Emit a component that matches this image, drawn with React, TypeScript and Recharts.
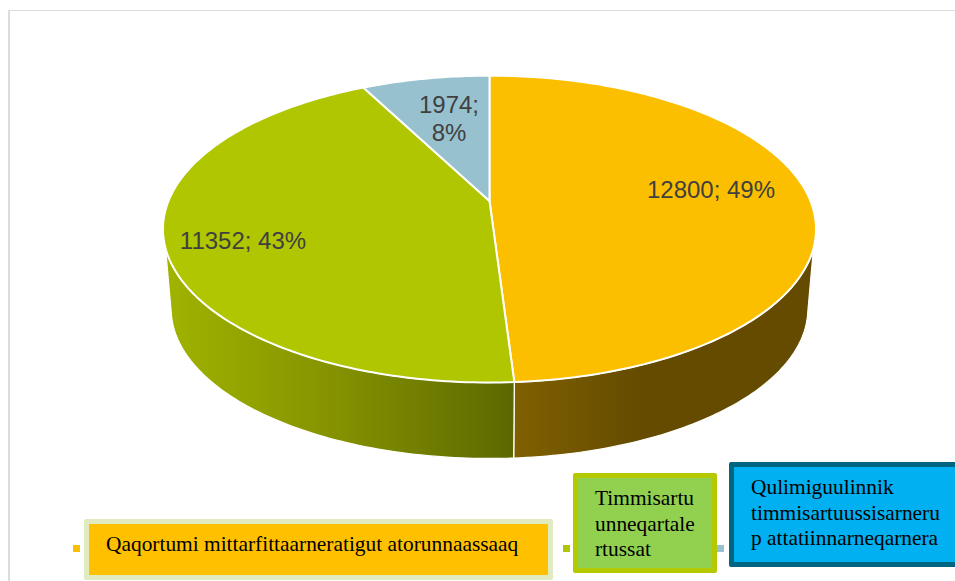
import React from 'react';
import { PieChart, Pie, Legend } from 'recharts';

const categories = [
  'Qaqortumi mittarfittaarneratigut atorunnaassaaq',
  'Timmisartu unneqartalertussat',
  'Qulimiguulinnik timmisartuussisarnerup attatiinnarneqarnera',
];
const values = [12800, 11352, 1974];
const sliceColors = ['#fbbf00', '#afc600', '#98c1d0'];

// the legend boxes wrap in the middle of words, so the lines are kept as read
const legendLines = [
  ['Qaqortumi mittarfittaarneratigut atorunnaassaaq'],
  ['Timmisartu', 'unneqartale', 'rtussat'],
  ['Qulimiguulinnik', 'timmisartuussisarneru', 'p attatiinnarneqarnera'],
];

const chartData = categories.map((name, i) => ({ name, value: values[i], fill: sliceColors[i] }));

// perspective of the tilted disc
const W = 955;
const H = 581;
const APEX_X = 489.5;
const APEX_Y = 201;
const RX = 321;
const RY = 148.3;
const TILT = 0.183;
const DEPTH_SCALE = 0.975;
const DEPTH_DROP = 80.5;
// where the side wall starts on the upper and on the lower rim
const UPPER_FROM = 107.5;
const LOWER_FROM = 102;

const rad = (d: number) => (d * Math.PI) / 180;

const project = (theta: number, cx: number, cy: number, lower = false) => {
  const X = Math.sin(rad(theta));
  const Y = Math.cos(rad(theta));
  const d = 1 + TILT * Y;
  const s = lower ? DEPTH_SCALE : 1;
  return {
    x: cx + (s * RX * X) / d,
    y: cy + (lower ? DEPTH_DROP : 0) - (s * RY * Y) / d,
  };
};

const sweep = (from: number, to: number, cx: number, cy: number, lower = false) => {
  const pts: string[] = [];
  const n = Math.max(2, Math.ceil(Math.abs(to - from)));
  for (let i = 0; i <= n; i++) {
    const p = project(from + ((to - from) * i) / n, cx, cy, lower);
    pts.push(`${p.x.toFixed(2)} ${p.y.toFixed(2)}`);
  }
  return pts;
};

const SliceShape = (props: any) => {
  const { cx, cy, startAngle, endAngle, fill, index } = props;
  // recharts angles run counter-clockwise from 3 o'clock, the projection clockwise from 12
  const from = 90 - startAngle;
  const to = 90 - endAngle;
  const top = `M${cx} ${cy}L${sweep(from, to, cx, cy).join('L')}Z`;
  const upperFrom = Math.max(from, UPPER_FROM);
  const upperTo = Math.min(to, 360 - UPPER_FROM);
  const lowerFrom = Math.max(from, LOWER_FROM);
  const lowerTo = Math.min(to, 360 - LOWER_FROM);
  const side =
    upperTo > upperFrom
      ? `M${sweep(upperFrom, upperTo, cx, cy).join('L')}L${sweep(lowerTo, lowerFrom, cx, cy, true).join('L')}Z`
      : null;
  return (
    <g>
      {side && <path d={side} fill={`url(#side${index})`} stroke="#ffffff" strokeWidth={1.25} />}
      <path d={top} fill={fill} stroke="#ffffff" strokeWidth={2} strokeLinejoin="round" />
    </g>
  );
};

const labelSpots = [
  { x: 711, y: 190 },
  { x: 243, y: 241 },
  { x: 449, y: 118 },
];

const SliceLabel = (props: any) => {
  const { index, value, percent } = props;
  const spot = labelSpots[index];
  const pct = `${Math.round(percent * 100)}%`;
  const common = { textAnchor: 'middle' as const, fontSize: 24, fill: '#404040', fontFamily: '"Liberation Sans", Arial, sans-serif' };
  if (index === 2) {
    return (
      <text x={spot.x} y={spot.y} {...common}>
        <tspan x={spot.x} y={spot.y - 5}>{`${value};`}</tspan>
        <tspan x={spot.x} y={spot.y + 23}>{pct}</tspan>
      </text>
    );
  }
  return (
    <text x={spot.x} y={spot.y + 8} {...common}>{`${value}; ${pct}`}</text>
  );
};

const legendBoxes = [
  { left: 84, top: 519, width: 469, height: 61, border: '#e2eac0', fill: '#ffc000', marker: 73 },
  { left: 573, top: 473, width: 144, height: 100, border: '#b5c900', fill: '#92d050', marker: 563 },
  { left: 729, top: 462, width: 240, height: 105, border: '#006580', fill: '#00b0f0', marker: 717 },
];

const BoxLegend = (props: any) => {
  const payload = props.payload || [];
  return (
    <div style={{ position: 'relative', width: W, height: H, overflow: 'hidden' }}>
      {payload.map((entry: any, i: number) => {
        const b = legendBoxes[i];
        return (
          <React.Fragment key={entry.value}>
            <div style={{ position: 'absolute', left: b.marker, top: 545, width: 7, height: 7, background: entry.color }} />
            <div
              style={{
                position: 'absolute',
                left: b.left,
                top: b.top,
                width: b.width,
                height: b.height,
                boxSizing: 'border-box',
                background: b.fill,
                border: `5px solid ${b.border}`,
                borderRadius: 2,
                paddingLeft: 17,
                paddingTop: 8,
                fontFamily: '"Liberation Serif", "Times New Roman", serif',
                fontSize: 21.4,
                lineHeight: '25.5px',
                color: '#000000',
                whiteSpace: 'nowrap',
              }}
            >
              {legendLines[i].map((line) => (
                <div key={line}>{line}</div>
              ))}
            </div>
          </React.Fragment>
        );
      })}
    </div>
  );
};

export default function App() {
  return (
    <div style={{ position: 'absolute', left: 0, top: 0, width: W, height: H, overflow: 'hidden', background: '#ffffff' }}>
      <div
        style={{
          position: 'absolute',
          left: 8,
          top: 10,
          width: W + 20,
          height: H + 20,
          borderLeft: '2px solid #dcdcdc',
          borderTop: '1px solid #dcdcdc',
        }}
      />
      <div style={{ position: 'absolute', left: 0, top: 0 }}>
        <PieChart width={W} height={H} margin={{ top: 0, right: 0, bottom: 0, left: 0 }}>
          <defs>
            <linearGradient id="side0" gradientUnits="userSpaceOnUse" x1={514} y1={0} x2={640} y2={0}>
              <stop offset="0%" stopColor="#806000" />
              <stop offset="100%" stopColor="#644b00" />
            </linearGradient>
            <linearGradient id="side1" gradientUnits="userSpaceOnUse" x1={164} y1={0} x2={514} y2={0}>
              <stop offset="0%" stopColor="#a0b400" />
              <stop offset="50%" stopColor="#849100" />
              <stop offset="100%" stopColor="#5c6800" />
            </linearGradient>
          </defs>
          <Pie
            data={chartData}
            dataKey="value"
            nameKey="name"
            cx={APEX_X}
            cy={APEX_Y}
            outerRadius={180}
            startAngle={90}
            endAngle={-270}
            stroke="#ffffff"
            shape={SliceShape}
            label={SliceLabel}
            labelLine={false}
            isAnimationActive={false}
          />
          <Legend
            content={BoxLegend}
            itemSorter={null}
            wrapperStyle={{ position: 'absolute', left: 0, top: 0, width: W, height: H, pointerEvents: 'none' }}
          />
        </PieChart>
      </div>
    </div>
  );
}
